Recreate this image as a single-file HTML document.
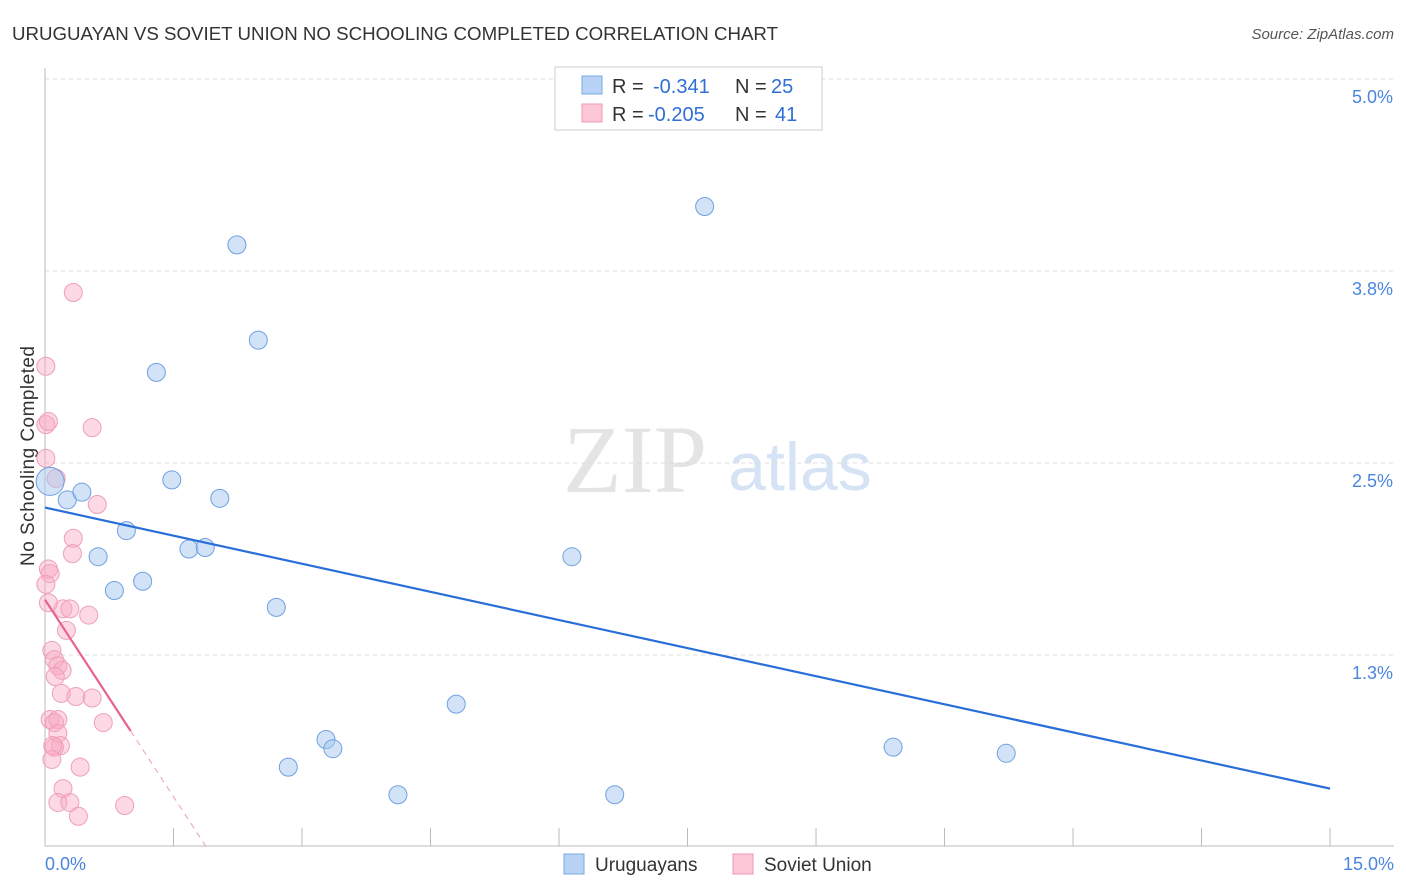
<!DOCTYPE html>
<html><head><meta charset="utf-8"><style>
body{margin:0;background:#fff;font-family:"Liberation Sans",sans-serif;}
svg{display:block}
</style></head><body>
<svg width="1406" height="892" id="chart">
<text x="12" y="40" font-size="18" fill="#333" textLength="766" lengthAdjust="spacingAndGlyphs">URUGUAYAN VS SOVIET UNION NO SCHOOLING COMPLETED CORRELATION CHART</text>
<text x="1394" y="39" font-size="15" fill="#555" text-anchor="end" font-style="italic">Source: ZipAtlas.com</text>
<text x="635" y="492" font-size="96" fill="#e4e4e4" font-family="Liberation Serif,serif" text-anchor="middle">ZIP</text>
<text x="800" y="490" font-size="68" fill="#d5e3f5" text-anchor="middle">atlas</text>
<text transform="translate(34,456) rotate(-90)" font-size="19" fill="#333" text-anchor="middle" textLength="220">No Schooling Completed</text>
<g id="grid"></g><g id="pts"></g><g id="lines"></g>
<g>
<rect x="555" y="67" width="267" height="63" fill="#fff" stroke="#ccc"/>
<rect x="582" y="76" width="20" height="18" fill="#b8d3f5" stroke="#7aaae6"/>
<rect x="582" y="104" width="20" height="18" fill="#fcc7d6" stroke="#ef9ab2"/>
<g font-size="20">
<text x="612" y="93" fill="#333">R =</text><text x="653" y="93" fill="#2f6fd6">-0.341</text>
<text x="735" y="93" fill="#333">N =</text><text x="771" y="93" fill="#2f6fd6">25</text></g>
<g font-size="20">
<text x="612" y="121" fill="#333">R =</text><text x="648" y="121" fill="#2f6fd6">-0.205</text>
<text x="735" y="121" fill="#333">N =</text><text x="775" y="121" fill="#2f6fd6">41</text></g>
</g>
<g>
<rect x="564" y="854" width="20" height="20" fill="#b8d3f5" stroke="#7aaae6"/>
<text x="595" y="871" font-size="19" fill="#333">Uruguayans</text>
<rect x="733" y="854" width="20" height="20" fill="#fcc7d6" stroke="#ef9ab2"/>
<text x="764" y="871" font-size="19" fill="#333">Soviet Union</text>
</g>
</svg>
<script>
const yTicks=[5.0,3.75,2.5,1.25];
const yTickLabels=["5.0%","3.8%","2.5%","1.3%"];
const xTickCount=10;
const blueX=[0.06,0.26,0.43,0.62,0.81,0.95,1.14,1.30,1.48,1.68,1.87,2.04,2.24,2.49,2.70,2.84,3.28,3.36,4.12,4.80,6.15,6.65,7.70,9.90,11.22];
const blueY=[2.38,2.26,2.31,1.89,1.67,2.06,1.73,3.09,2.39,1.94,1.95,2.27,3.92,3.30,1.56,0.52,0.70,0.64,0.34,0.93,1.89,0.34,4.17,0.65,0.61];
const pinkX=[0.33,0.01,0.01,0.04,0.55,0.01,0.13,0.61,0.33,0.32,0.04,0.06,0.01,0.21,0.29,0.51,0.04,0.25,0.08,0.11,0.15,0.20,0.12,0.19,0.36,0.55,0.06,0.15,0.11,0.68,0.15,0.18,0.11,0.09,0.08,0.41,0.21,0.15,0.29,0.93,0.39];
const pinkY=[3.61,3.13,2.75,2.77,2.73,2.53,2.40,2.23,2.01,1.91,1.81,1.78,1.71,1.55,1.55,1.51,1.59,1.41,1.28,1.22,1.18,1.15,1.11,1.00,0.98,0.97,0.83,0.83,0.81,0.81,0.74,0.66,0.65,0.66,0.57,0.52,0.38,0.29,0.29,0.27,0.20];
const blueTrend=[2.21,0.38];
const pinkTrend=[1.61,-0.855];
const pinkSolidEnd=1.0;
const X=v=>45+v*85.67, Y=v=>847-v*153.6;
const NS="http://www.w3.org/2000/svg";
function mk(tag,attrs,parent){const e=document.createElementNS(NS,tag);for(const k in attrs)e.setAttribute(k,attrs[k]);document.getElementById(parent).appendChild(e);return e;}
yTicks.forEach((t,i)=>{
 const l=mk('line',{x1:45,x2:1394,y1:Y(t),y2:Y(t),stroke:'#ddd','stroke-dasharray':'4,4'},'grid');
 
 
 const tx=mk('text',{x:1393,y:Y(t)+24,'font-size':18,fill:'#4a86de','text-anchor':'end'},'grid');
 tx.textContent=yTickLabels[i];
 
 
});
const ax=mk('line',{x1:45,x2:45,y1:68,y2:846,stroke:'#bbb'},'grid');


const bx=mk('line',{x1:45,x2:1394,y1:846,y2:846,stroke:'#bbb'},'grid');


for(let i=1;i<=xTickCount;i++){const t=mk('line',{x1:X(i*1.5),x2:X(i*1.5),y1:828,y2:846,stroke:'#bbb'},'grid');
 
 }
[["0.0%",45,'start'],["15.0%",1394,'end']].forEach(([s,x,a])=>{const t=mk('text',{x:x,y:870,'font-size':18,fill:'#4a86de','text-anchor':a},'grid');t.textContent=s;
 
 });
pinkX.forEach((x,i)=>{const c=mk('circle',{cx:X(x),cy:Y(pinkY[i]),r:9,fill:'rgba(248,170,195,0.45)',stroke:'#eea0b8','stroke-width':1},'pts');
 
 });
blueX.forEach((x,i)=>{const c=mk('circle',{cx:X(x),cy:Y(blueY[i]),r:i===0?14:9,fill:'rgba(165,200,240,0.5)',stroke:'#6fa0e0','stroke-width':1},'pts');
 
 });
const bl=mk('line',{x1:X(0),y1:Y(blueTrend[0]),x2:X(15),y2:Y(blueTrend[1]),stroke:'#2a6fd8','stroke-width':2.2},'lines');


const pe=-pinkTrend[0]/pinkTrend[1];
const pl=mk('line',{x1:X(0),y1:Y(pinkTrend[0]),x2:X(pinkSolidEnd),y2:Y(pinkTrend[0]+pinkTrend[1]*pinkSolidEnd),stroke:'#e8638d','stroke-width':2.2},'lines');


const pd=mk('line',{x1:X(pinkSolidEnd),y1:Y(pinkTrend[0]+pinkTrend[1]*pinkSolidEnd),x2:X(pe),y2:Y(0),stroke:'#e8a0b5','stroke-width':1,'stroke-dasharray':'6,5'},'lines');


</script>
</body></html>
